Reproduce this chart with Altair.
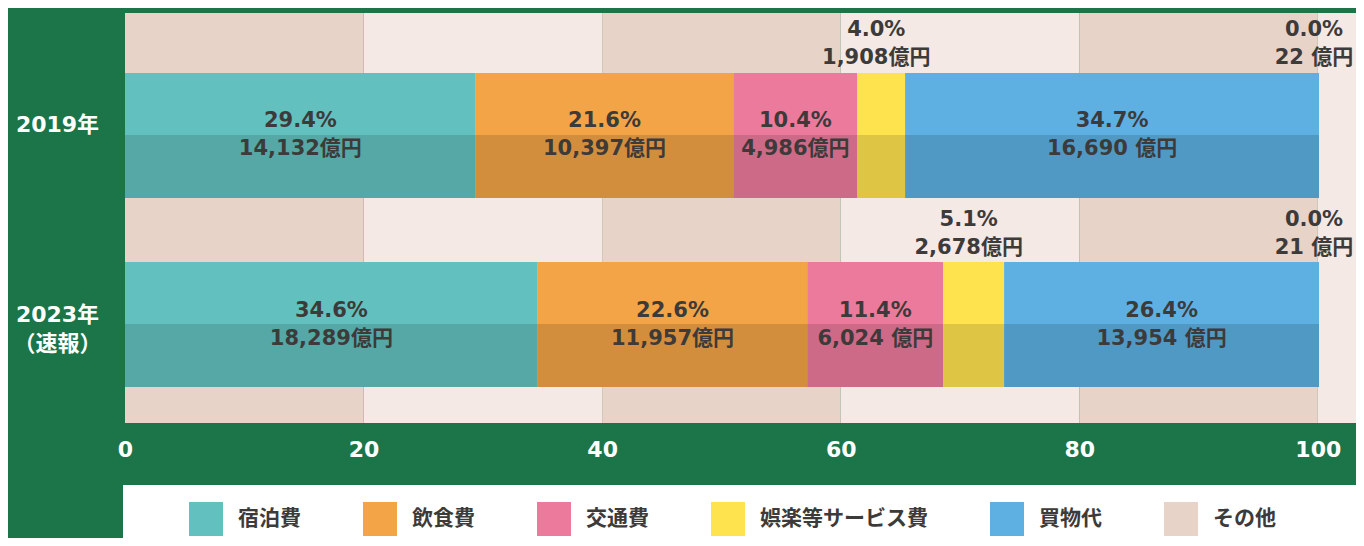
import altair as alt
import pandas as pd

# ---- data -------------------------------------------------------------
years = ["2019年", "2023年（速報）"]
categories = ["宿泊費", "飲食費", "交通費", "娯楽等サービス費", "買物代", "その他"]
pct_2019 = [29.4, 21.6, 10.4, 4.0, 34.7, 0.0]
pct_2023 = [34.6, 22.6, 11.4, 5.1, 26.4, 0.0]
amt_2019 = ["14,132億円", "10,397億円", "4,986億円", "1,908億円", "16,690 億円", "22 億円"]
amt_2023 = ["18,289億円", "11,957億円", "6,024 億円", "2,678億円", "13,954 億円", "21 億円"]
x_ticks = [0, 20, 40, 60, 80, 100]

# ---- styles -----------------------------------------------------------
colors = ["#62c1bf", "#f3a447", "#ec7a9c", "#ffe34e", "#5eb0e3", "#e8d3c8"]
GREEN = "#1b7549"
DARK_BAND = "#e8d3c8"
LIGHT_BAND = "#f4e9e4"
TEXT = "#3d3a3a"
LATIN = "DejaVu Sans, Noto Sans CJK JP"
CJK = "Noto Sans CJK JP"

W, H = 1231, 410
X_MAX = 103.2

rows = []
for year, pcts, amts in [(years[0], pct_2019, amt_2019), (years[1], pct_2023, amt_2023)]:
    start = 0.0
    for cat, p, a in zip(categories, pcts, amts):
        rows.append({
            "year": year, "cat": cat, "start": start, "end": start + p,
            "mid": start + p / 2, "pct": f"{p:.1f}%", "amt": a,
            "place": "above" if p < 6 else "in",
        })
        start += p
df = pd.DataFrame(rows)

band_edges = x_ticks + [X_MAX]
bands = pd.DataFrame({
    "b0": band_edges[:-1],
    "b1": band_edges[1:],
    "fill": [DARK_BAND if i % 2 == 0 else LIGHT_BAND for i in range(len(band_edges) - 1)],
})

xscale = alt.Scale(domain=[0, X_MAX], nice=False, zero=False)
yscale = alt.Scale(domain=years, paddingInner=0.339, paddingOuter=0.254, align=0.625)

bg = alt.Chart(bands).mark_rect().encode(
    x=alt.X("b0:Q", scale=xscale,
            axis=alt.Axis(values=x_ticks, title=None, grid=False, domain=False, ticks=False,
                          labelColor="white", labelFont=LATIN, labelFontWeight="bold",
                          labelFontSize=22, labelPadding=16, labelFlush=False)),
    x2="b1:Q",
    y=alt.value(0), y2=alt.value(H),
    fill=alt.Fill("fill:N", scale=None, legend=None),
)

legend_box = alt.Chart(pd.DataFrame({"k": [0]})).mark_rect(color="white").encode(
    x=alt.value(-2), x2=alt.value(W + 20), y=alt.value(472), y2=alt.value(H + 130)
)

ylabel_expr = ("indexof(datum.label,'（')>0 ? [slice(datum.label,0,indexof(datum.label,'（')),"
               " slice(datum.label,indexof(datum.label,'（'))] : datum.label")

bars = alt.Chart(df).mark_bar().encode(
    x=alt.X("start:Q", scale=xscale),
    x2="end:Q",
    y=alt.Y("year:N", scale=yscale, sort=years,
            axis=alt.Axis(title=None, domain=False, ticks=False, tickSize=0, grid=False,
                          labelColor="white", labelFont=LATIN, labelFontWeight="bold",
                          labelFontSize=22, labelAlign="center", labelBaseline="top",
                          labelPadding=68, labelOffset=-20, labelLineHeight=29,
                          labelExpr=ylabel_expr)),
    color=alt.Color("cat:N", scale=alt.Scale(domain=categories, range=colors), sort=categories,
                    legend=alt.Legend(title=None, orient="none", legendX=64, legendY=489,
                                      direction="horizontal", columns=6, symbolType="square",
                                      symbolSize=1156, symbolStrokeWidth=0, symbolOpacity=1,
                                      labelFont=CJK, labelFontSize=21, labelFontWeight="bold",
                                      labelColor=TEXT, labelOffset=15, columnPadding=62,
                                      labelLimit=400, padding=0)),
)

shade = alt.Chart(df).mark_bar(color="black", opacity=0.13, size=63, yOffset=31).encode(
    x=alt.X("start:Q", scale=xscale), x2="end:Q",
    y=alt.Y("year:N", scale=yscale, sort=years),
)

def label(field, place, dy, dx=0):
    return alt.Chart(df).transform_filter(alt.datum.place == place).mark_text(
        font=LATIN, fontSize=21, fontWeight="bold", color=TEXT, baseline="middle",
        align="center", dy=dy, dx=dx
    ).encode(
        x=alt.X("mid:Q", scale=xscale),
        y=alt.Y("year:N", scale=yscale, sort=years),
        text=f"{field}:N",
    )

chart = alt.layer(
    bg, legend_box, bars, shade,
    label("pct", "in", -14), label("amt", "in", 14),
    label("pct", "above", -105, -5), label("amt", "above", -77, -5),
).properties(
    width=W, height=H,
    autosize=alt.AutoSizeParams(type="none"),
    padding={"left": 117, "top": 5, "right": 0, "bottom": 115},
).configure(background=GREEN).configure_view(stroke=None)

chart.save("out.html", embed_options={"renderer": "svg", "actions": False})
